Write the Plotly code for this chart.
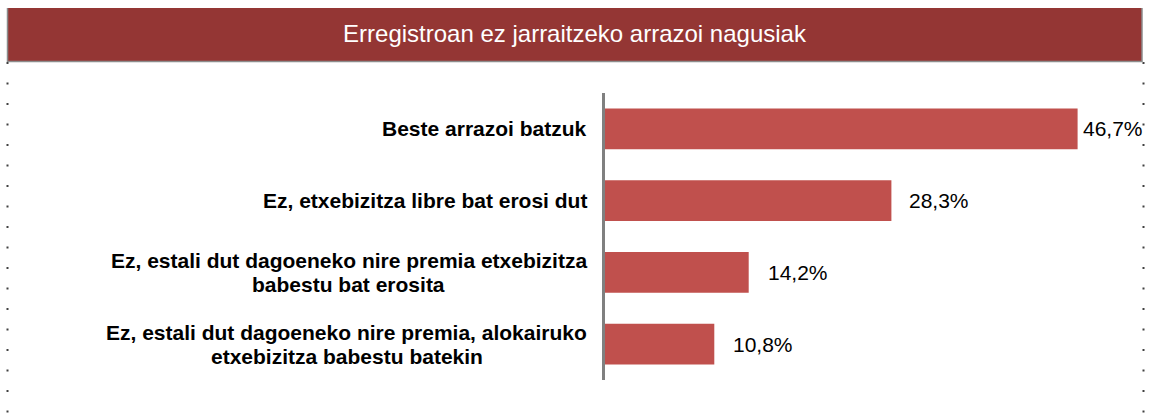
import plotly.graph_objects as go

# ---- data ----
categories = [
    "Beste arrazoi batzuk",
    "Ez, etxebizitza libre bat erosi dut",
    "Ez, estali dut dagoeneko nire premia etxebizitza\nbabestu bat erosita",
    "Ez, estali dut dagoeneko nire premia, alokairuko\netxebizitza babestu batekin",
]
cat_keys = ["c1", "c2", "c3", "c4"]
values = [46.7, 28.3, 14.2, 10.8]
value_labels = ["46,7%", "28,3%", "14,2%", "10,8%"]
title_text = "Erregistroan ez jarraitzeko arrazoi nagusiak"

# ---- layout geometry (pixels) ----
W, H = 1149, 414
L, R, T, B = 605, 38, 93, 34
PW = W - L - R
PH = H - T - B

def px(X):
    return (X - L) / PW

def py(Y):
    return (H - B - Y) / PH

FONT = "Arial, 'Liberation Sans', sans-serif"
BAR = "#C0504D"

fig = go.Figure()
fig.add_trace(go.Bar(
    x=values, y=cat_keys, orientation="h",
    marker=dict(color=BAR, line=dict(width=0)),
    hoverinfo="skip",
))

annotations = []
label_shift = [3, 16, 17, 17]
for k, v, t, s in zip(cat_keys, values, value_labels, label_shift):
    annotations.append(dict(
        x=v, y=k, xref="x", yref="y", text=t, showarrow=False,
        xanchor="left", yanchor="middle", xshift=s,
        font=dict(family=FONT, size=21, color="#000000"),
    ))

LINE_GAP = 24
for k, c in zip(cat_keys, categories):
    lines = c.split("\n")
    n = len(lines)
    for i, ln in enumerate(lines):
        annotations.append(dict(
            x=0, y=k, xref="paper", yref="y", text=ln, showarrow=False,
            xanchor="right" if i == 0 else "center",
            yanchor="middle",
            xshift=-16, yshift=((n - 1) / 2 - i) * LINE_GAP,
            font=dict(family=FONT, size=21, color="#000000", weight=700),
            name=f"{k}_{i}",
        ))

shapes = [
    # title band
    dict(type="rect", xref="paper", yref="paper",
         x0=px(8), x1=px(1142), y0=py(61), y1=py(8),
         fillcolor="#943634", line=dict(width=0), layer="above"),
    dict(type="line", xref="paper", yref="paper",
         x0=px(7.5), x1=px(7.5), y0=py(62), y1=py(8),
         line=dict(color="#8c8c8c", width=1.5)),
    dict(type="line", xref="paper", yref="paper",
         x0=px(1142), x1=px(1142), y0=py(62), y1=py(8),
         line=dict(color="#8c8c8c", width=1.5)),
    dict(type="line", xref="paper", yref="paper",
         x0=px(7), x1=px(1142), y0=py(61.5), y1=py(61.5),
         line=dict(color="#8c8c8c", width=1.5)),
    # dotted chart borders
    dict(type="line", xref="paper", yref="paper",
         x0=px(7.5), x1=px(7.5), y0=py(62), y1=py(414),
         line=dict(color="#404040", width=2, dash="2px,18.5px")),
    dict(type="line", xref="paper", yref="paper",
         x0=px(1143.5), x1=px(1143.5), y0=py(62), y1=py(414),
         line=dict(color="#404040", width=2, dash="2px,18.5px")),
]

fig.update_layout(
    width=W, height=H,
    margin=dict(l=L, r=R, t=T, b=B),
    paper_bgcolor="white", plot_bgcolor="white",
    showlegend=False,
    bargap=0.43,
    title=dict(text=title_text, x=0.5, xanchor="center", xref="container",
               y=(H - 34) / H, yanchor="middle", yref="container",
               font=dict(family=FONT, size=24, color="white")),
    xaxis=dict(range=[0, 50], visible=False, fixedrange=True),
    yaxis=dict(categoryorder="array", categoryarray=cat_keys,
               autorange="reversed", showticklabels=False, ticks="",
               showgrid=False, zeroline=False,
               showline=True, linecolor="#808080", linewidth=3,
               fixedrange=True),
    annotations=annotations,
    shapes=shapes,
)

# centre continuation lines on the first line of each label (needs text width)
post = """
var gd = document.getElementById('{plot_id}');
document.body.style.margin = '0';
document.body.style.overflow = 'hidden';
function centreLines() {
  var anns = gd.layout.annotations;
  var nodes = gd.querySelectorAll('.annotation');
  var widths = {};
  anns.forEach(function (a, idx) {
    if (a.name && a.name.slice(-2) === '_0') {
      var t = nodes[idx].querySelector('text');
      widths[a.name.slice(0, -2)] = t.getBBox().width;
    }
  });
  var upd = {};
  anns.forEach(function (a, idx) {
    if (a.name && a.name.slice(-2) !== '_0' && a.name.indexOf('_') > 0) {
      var key = a.name.split('_')[0];
      upd['annotations[' + idx + '].xshift'] = -16 - widths[key] / 2 - 2;
    }
  });
  Plotly.relayout(gd, upd);
}
centreLines();
"""

fig.write_html("out.html", post_script=post,
               config={"displayModeBar": False, "staticPlot": True})
